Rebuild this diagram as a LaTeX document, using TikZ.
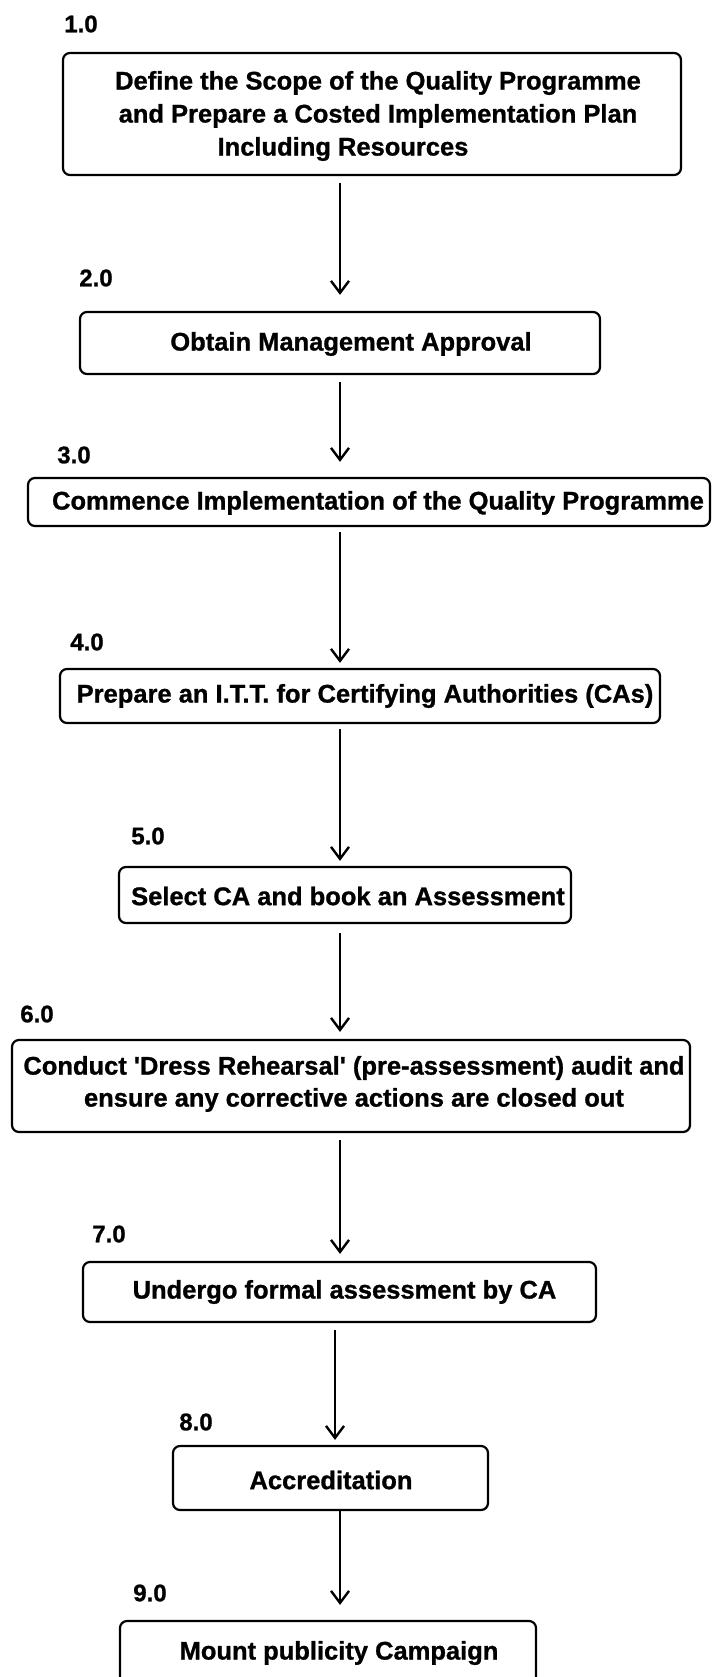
\documentclass[tikz,border=0pt]{standalone}
\usepackage{fontspec}
\setmainfont{Liberation Sans}[BoldFeatures={FakeBold=1}]
\usetikzlibrary{arrows.meta}
\begin{document}
\begin{tikzpicture}[x=1pt,y=-1pt,
  box/.style={draw, line width=2.2pt, rounded corners=7pt, inner sep=0pt, anchor=center},
  txt/.style={font=\bfseries\fontsize{25.5}{33}\selectfont, align=center, inner sep=0pt, anchor=center},
  num/.style={font=\bfseries\fontsize{24}{26}\selectfont, inner sep=0pt, anchor=center},
  arr/.style={line width=2.2pt, -{Straight Barb[length=12pt,width=18pt,line width=2.4pt]}}]
\useasboundingbox (0,0) rectangle (717,1677);
\clip (0,0) rectangle (717,1677);
\fill[white] (0,0) rectangle (717,1677);
% boxes
\node[box, minimum width=618pt, minimum height=122pt] (b1) at (372,114) {};
\node[box, minimum width=520pt, minimum height=62pt] (b2) at (340,343) {};
\node[box, minimum width=682pt, minimum height=48pt] (b3) at (369,502) {};
\node[box, minimum width=600pt, minimum height=54pt] (b4) at (360,696) {};
\node[box, minimum width=452pt, minimum height=56pt] (b5) at (345,895) {};
\node[box, minimum width=678pt, minimum height=92pt] (b6) at (351,1086) {};
\node[box, minimum width=513pt, minimum height=60pt] (b7) at (339.5,1292) {};
\node[box, minimum width=315pt, minimum height=64pt] (b8) at (330.5,1478) {};
\node[box, minimum width=416pt, minimum height=69pt] (b9) at (328,1655.5) {};
% texts
\node[txt] (t1) at (378,116) {Define the Scope of the Quality Programme\\and Prepare a Costed Implementation Plan\\\hspace*{-70pt}Including Resources};
\node[txt] (t2) at (351,344) {Obtain Management Approval};
\node[txt] (t3) at (378,503) {Commence Implementation of the Quality Programme};
\node[txt] (t4) at (365,696) {Prepare an I.T.T. for Certifying Authorities (CAs)};
\node[txt] (t5) at (348,896) {Select CA and book an Assessment};
\node[txt, font=\bfseries\fontsize{25.5}{32}\selectfont] (t6) at (354,1084) {Conduct \textquotesingle Dress Rehearsal\textquotesingle\ (pre-assessment) audit and\\ensure any corrective actions are closed out};
\node[txt] (t7) at (344.5,1292) {Undergo formal assessment by CA};
\node[txt] (t8) at (331,1480) {Accreditation};
\node[txt] (t9) at (339,1653) {Mount publicity Campaign};
% numbers
\node[num] (l1) at (81,24) {1.0};
\node[num] (l2) at (96,278) {2.0};
\node[num] (l3) at (74,455) {3.0};
\node[num] (l4) at (87,642) {4.0};
\node[num] (l5) at (148,836) {5.0};
\node[num] (l6) at (37,1014) {6.0};
\node[num] (l7) at (109,1234) {7.0};
\node[num] (l8) at (196,1422) {8.0};
\node[num] (l9) at (150,1593) {9.0};
% arrows
\coordinate (ax) at (340,0);
\coordinate (ay) at (335,0);
\draw[arr, shorten <=7pt, shorten >=16pt] (b1.south -| ax) -- (b2.north -| ax);
\draw[arr, shorten <=7pt, shorten >=15pt] (b2.south -| ax) -- (b3.north -| ax);
\draw[arr, shorten <=5pt, shorten >=5pt] (b3.south -| ax) -- (b4.north -| ax);
\draw[arr, shorten <=5pt, shorten >=5pt] (b4.south -| ax) -- (b5.north -| ax);
\draw[arr, shorten <=9pt, shorten >=7pt] (b5.south -| ax) -- (b6.north -| ax);
\draw[arr, shorten <=7pt, shorten >=7pt] (b6.south -| ax) -- (b7.north -| ax);
\draw[arr, shorten <=7pt, shorten >=5pt] (b7.south -| ay) -- (b8.north -| ay);
\draw[arr, shorten <=0pt, shorten >=15pt] (b8.south -| ax) -- (b9.north -| ax);
\end{tikzpicture}
\end{document}
